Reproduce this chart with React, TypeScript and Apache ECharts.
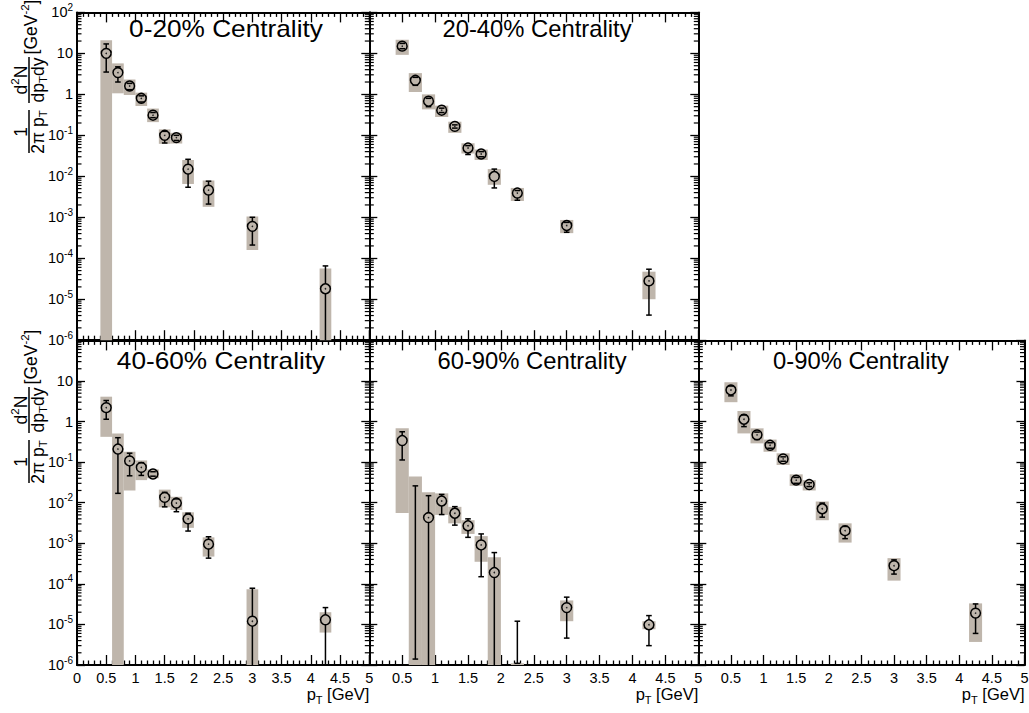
import React, { useEffect, useRef } from 'react';
import * as echarts from 'echarts';

const FF = '"Liberation Sans", Arial, Helvetica, sans-serif';
const font = (px: number) => `normal ${px}px ${FF}`;

// pT bin centres [GeV]
const pT = [0.5, 0.7, 0.9, 1.1, 1.3, 1.5, 1.7, 1.9, 2.25, 3.0, 4.25];

const panelTitles = ['0-20% Centrality', '20-40% Centrality', '40-60% Centrality', '60-90% Centrality', '0-90% Centrality'];

// x tick labels
const xTickStep = 0.5;
// y decades (exponents) shown as labels
const yMinExp = -6;
const yMaxExp = 2;
const minorMultipliers = [2, 3, 4, 5, 6, 7, 8, 9];

// ---- 0-20% ----
const y0_20 = [10, 3.4, 1.6, 0.8, 0.31, 0.1, 0.088, 0.015, 0.0046, 6.0e-4, 1.8e-5];
const statLo0_20 = [3.5, 2.0, 1.3, 0.65, 0.27, 0.065, 0.075, 0.0054, 0.0021, 2.1e-4, 1e-6];
const statHi0_20 = [17, 4.7, 1.85, 0.92, 0.36, 0.125, 0.1, 0.026, 0.0076, 1.0e-3, 6.5e-5];
const sysLo0_20 = [1e-6, 1.06, 0.96, 0.52, 0.21, 0.062, 0.063, 0.0065, 0.0018, 1.6e-4, 1e-6];
const sysHi0_20 = [21, 5.7, 2.3, 1.1, 0.45, 0.14, 0.115, 0.025, 0.0079, 1.05e-3, 5.6e-5];

// ---- 20-40% ----
const y20_40 = [15, 2.2, 0.68, 0.41, 0.165, 0.049, 0.035, 0.0099, 0.0039, 6.3e-4, 2.8e-5];
const statLo20_40 = [13, 1.66, 0.5, 0.36, 0.15, 0.034, 0.03, 0.0052, 0.0026, 4.3e-4, 4.1e-6];
const statHi20_40 = [17.5, 2.6, 0.8, 0.46, 0.18, 0.056, 0.04, 0.015, 0.0045, 7.5e-4, 5.4e-5];
const sysLo20_40 = [9.2, 1.14, 0.43, 0.28, 0.115, 0.036, 0.025, 0.0062, 0.0025, 4.1e-4, 1.0e-5];
const sysHi20_40 = [21.5, 3.3, 1.0, 0.53, 0.215, 0.064, 0.045, 0.015, 0.0052, 8.6e-4, 4.7e-5];

// ---- 40-60% ----
const y40_60 = [2.2, 0.21, 0.107, 0.074, 0.051, 0.0135, 0.0098, 0.004, 9.5e-4, 1.2e-5, 1.3e-5];
const statLo40_60 = [1.14, 0.017, 0.046, 0.047, 0.045, 0.0079, 0.006, 0.002, 4.3e-4, 1e-6, 1e-6];
const statHi40_60 = [3.3, 0.4, 0.166, 0.097, 0.058, 0.018, 0.0124, 0.0055, 1.45e-3, 7.8e-5, 2.6e-5];
const sysLo40_60 = [0.42, 1e-6, 0.02, 0.036, 0.04, 0.0077, 0.0066, 0.0024, 4.7e-4, 1e-6, 6.3e-6];
const sysHi40_60 = [4.1, 0.51, 0.18, 0.11, 0.066, 0.021, 0.014, 0.0058, 1.4e-3, 7.4e-5, 2.0e-5];

// ---- 60-90% ----
const y60_90 = [0.34, null, 0.0043, 0.011, 0.0055, 0.0027, 9.1e-4, 1.9e-4, null, 2.6e-5, 9.8e-6];
const statLo60_90 = [0.113, 1.4e-6, 1e-6, 0.0051, 0.0028, 0.0014, 1.5e-4, 1e-6, 1.1e-6, 4.6e-6, 3.0e-6];
const statHi60_90 = [0.56, 0.026, 0.0149, 0.016, 0.008, 0.004, 0.0017, 5.9e-4, 1.2e-5, 4.7e-5, 1.65e-5];
const sysLo60_90 = [0.0056, 1e-6, 1e-6, 0.005, 0.0031, 0.0017, 3.5e-4, 1e-6, 1e-6, 1.2e-5, 7.6e-6];
const sysHi60_90 = [0.68, 0.044, 0.018, 0.017, 0.0079, 0.0037, 0.0015, 4.5e-4, 1.1e-6, 3.9e-5, 1.2e-5];

// ---- 0-90% ----
const y0_90 = [6.0, 1.14, 0.47, 0.26, 0.12, 0.036, 0.028, 0.0071, 0.00205, 2.8e-4, 1.9e-5];
const statLo0_90 = [4.3, 0.75, 0.36, 0.22, 0.105, 0.03, 0.025, 0.0044, 0.0013, 1.74e-4, 6.0e-6];
const statHi0_90 = [7.5, 1.45, 0.55, 0.3, 0.135, 0.042, 0.031, 0.0098, 0.0026, 3.9e-4, 3.2e-5];
const sysLo0_90 = [3.0, 0.51, 0.29, 0.18, 0.085, 0.026, 0.02, 0.0037, 1.04e-3, 1.2e-4, 3.7e-6];
const sysHi0_90 = [9.3, 1.82, 0.68, 0.36, 0.165, 0.05, 0.036, 0.0107, 3.1e-3, 4.3e-4, 3.3e-5];

const panelData = [
  { y: y0_20, statLo: statLo0_20, statHi: statHi0_20, sysLo: sysLo0_20, sysHi: sysHi0_20 },
  { y: y20_40, statLo: statLo20_40, statHi: statHi20_40, sysLo: sysLo20_40, sysHi: sysHi20_40 },
  { y: y40_60, statLo: statLo40_60, statHi: statHi40_60, sysLo: sysLo40_60, sysHi: sysHi40_60 },
  { y: y60_90, statLo: statLo60_90, statHi: statHi60_90, sysLo: sysLo60_90, sysHi: sysHi60_90 },
  { y: y0_90, statLo: statLo0_90, statHi: statHi0_90, sysLo: sysLo0_90, sysHi: sysHi0_90 },
];

// ---- layout (positions / styles) ----
const GRIDS = [
  { left: 77, top: 12.4, width: 292.3, height: 327.8 },
  { left: 369.3, top: 12.4, width: 329, height: 327.8 },
  { left: 77, top: 340.4, width: 292.3, height: 324.6 },
  { left: 369.3, top: 340.4, width: 329, height: 324.6 },
  { left: 698.3, top: 340.4, width: 326.2, height: 324.6 },
];
const LAYOUT = [
  { xLabels: false, hideZero: false, yLabels: true, hideTop: false, tx: 226, ty: 29.5, sx: 1.14 },
  { xLabels: false, hideZero: true, yLabels: false, hideTop: false, tx: 537, ty: 29.5, sx: 1.035 },
  { xLabels: true, hideZero: false, yLabels: true, hideTop: true, tx: 221, ty: 361.5, sx: 1.14 },
  { xLabels: true, hideZero: true, yLabels: false, hideTop: true, tx: 532, ty: 361, sx: 1.035 },
  { xLabels: true, hideZero: true, yLabels: false, hideTop: true, tx: 861, ty: 361, sx: 1.035 },
];

const BOX_COLOR = '#bfb6ac';
const BOX_HALF = 0.1;
const AXIS_MIN = Math.pow(10, yMinExp);
const AXIS_MAX = Math.pow(10, yMaxExp);
const LINE = '#000';

const yLabelFormatter = (hideTop: boolean) => (v: number) => {
  const e = Math.round(Math.log10(v));
  if (hideTop && e === 2) return '';
  if (e === 0) return '{b|1}';
  if (e === 1) return '{b|10}';
  return '{b|10}{s|' + e + '}';
};

const yRich = {
  b: { fontSize: 14.5, fontFamily: FF, color: '#000', lineHeight: 20 },
  s: { fontSize: 10, fontFamily: FF, color: '#000', verticalAlign: 'top', lineHeight: 8 },
};

// text measuring for composed (sub/superscript) labels
let measureCtx: CanvasRenderingContext2D | null = null;
function textWidth(text: string, px: number) {
  if (!measureCtx) measureCtx = document.createElement('canvas').getContext('2d');
  if (!measureCtx) return text.length * px * 0.55;
  measureCtx.font = font(px);
  return measureCtx.measureText(text).width;
}
type Part = { t: string; px: number; dy: number };
// lay out parts in a row; anchor: 'center' | 'right'
function composeText(parts: Part[], x: number, y: number, anchor: 'center' | 'right') {
  const widths = parts.map((p) => textWidth(p.t, p.px));
  const total = widths.reduce((a, b) => a + b, 0);
  let cur = anchor === 'center' ? x - total / 2 : x - total;
  return parts.map((p, i) => {
    const el = {
      type: 'text', x: cur, y: y + p.dy, silent: true,
      style: { text: p.t, font: font(p.px), fill: '#000', align: 'left', verticalAlign: 'middle' },
    };
    cur += widths[i];
    return el;
  });
}

function buildOption() {
  const grid: any[] = [];
  const xAxis: any[] = [];
  const yAxis: any[] = [];
  const series: any[] = [];
  const graphic: any[] = [];

  const minorVals: number[][] = [];
  for (let e = yMinExp; e < yMaxExp; e++) {
    minorMultipliers.forEach((m) => minorVals.push([0, m * Math.pow(10, e)]));
  }

  GRIDS.forEach((g, gi) => {
    const L = LAYOUT[gi];
    grid.push({ ...g, containLabel: false, outerBoundsMode: 'none' });
    const xCommon = {
      type: 'value', gridIndex: gi, min: 0, max: 5, interval: xTickStep,
      axisLine: { show: true, onZero: false, lineStyle: { color: LINE, width: 2 } },
      axisTick: { show: true, inside: true, length: 10, lineStyle: { color: LINE, width: 1.3 } },
      minorTick: { show: true, splitNumber: 5, length: 4.5, lineStyle: { color: LINE, width: 1.3 } },
      splitLine: { show: false }, minorSplitLine: { show: false },
    };
    xAxis.push({
      ...xCommon, position: 'bottom',
      axisLabel: {
        show: L.xLabels, fontSize: 14.5, fontFamily: FF, color: '#000', margin: 5,
        hideOverlap: false, showMinLabel: true, showMaxLabel: true,
        formatter: (v: number) => (L.hideZero && Math.abs(v) < 1e-9 ? '' : String(+v.toFixed(1))),
      },
    });
    xAxis.push({ ...xCommon, position: 'top', axisLabel: { show: false } });
    const yCommon = {
      type: 'log', logBase: 10, gridIndex: gi, min: AXIS_MIN, max: AXIS_MAX, splitNumber: 8,
      axisLine: { show: true, onZero: false, lineStyle: { color: LINE, width: 2 } },
      axisTick: { show: true, inside: true, length: 8, lineStyle: { color: LINE, width: 1.3 } },
      splitLine: { show: false },
    };
    yAxis.push({
      ...yCommon, position: 'left',
      axisLabel: {
        show: L.yLabels, margin: 4, formatter: yLabelFormatter(L.hideTop), rich: yRich,
        hideOverlap: false, showMinLabel: true, showMaxLabel: true,
      },
    });
    yAxis.push({ ...yCommon, position: 'right', axisLabel: { show: false } });

    const d = panelData[gi];
    // systematic boxes
    series.push({
      type: 'custom', xAxisIndex: 2 * gi, yAxisIndex: 2 * gi, z: 2, silent: true,
      data: pT.map((x, i) => [x, d.sysLo[i], d.sysHi[i]]),
      renderItem: (params: any, api: any) => {
        const x = api.value(0), lo = api.value(1), hi = api.value(2);
        const p1 = api.coord([x - BOX_HALF, hi]);
        const p2 = api.coord([x + BOX_HALF, lo]);
        return {
          type: 'rect',
          shape: { x: p1[0], y: p1[1], width: p2[0] - p1[0], height: p2[1] - p1[1] },
          style: { fill: BOX_COLOR },
        };
      },
    });
    // statistical errors + markers
    series.push({
      type: 'custom', xAxisIndex: 2 * gi, yAxisIndex: 2 * gi, z: 4, silent: true,
      data: pT.map((x, i) => [x, d.statLo[i], d.statHi[i], d.y[i] == null ? NaN : d.y[i]]),
      renderItem: (params: any, api: any) => {
        const x = api.value(0), lo = api.value(1), hi = api.value(2), yv = api.value(3);
        const pHi = api.coord([x, hi]);
        const pLo = api.coord([x, lo]);
        const cx = pHi[0];
        const R = 4.9;
        const CAP = 2.8;
        const ls = { stroke: LINE, lineWidth: 1.5 };
        const ch: any[] = [];
        const hasM = isFinite(yv) && yv > 0;
        if (hasM) {
          const pc = api.coord([x, yv]);
          if (pHi[1] < pc[1] - R) ch.push({ type: 'line', shape: { x1: cx, y1: pHi[1], x2: cx, y2: pc[1] - R }, style: ls });
          if (pLo[1] > pc[1] + R) ch.push({ type: 'line', shape: { x1: cx, y1: pc[1] + R, x2: cx, y2: pLo[1] }, style: ls });
          ch.push({ type: 'circle', shape: { cx: pc[0], cy: pc[1], r: R }, style: { fill: 'none', stroke: LINE, lineWidth: 1.5 } });
          ch.push({ type: 'circle', shape: { cx: pc[0], cy: pc[1], r: 0.8 }, style: { fill: '#222' } });
        } else {
          ch.push({ type: 'line', shape: { x1: cx, y1: pHi[1], x2: cx, y2: pLo[1] }, style: ls });
        }
        ch.push({ type: 'line', shape: { x1: cx - CAP, y1: pHi[1], x2: cx + CAP, y2: pHi[1] }, style: ls });
        if (lo > AXIS_MIN * 1.0001) {
          ch.push({ type: 'line', shape: { x1: cx - CAP, y1: pLo[1], x2: cx + CAP, y2: pLo[1] }, style: ls });
        }
        return { type: 'group', children: ch };
      },
    });
    // log-axis minor ticks (left and right)
    series.push({
      type: 'custom', xAxisIndex: 2 * gi, yAxisIndex: 2 * gi, z: 5, silent: true,
      data: minorVals,
      renderItem: (params: any, api: any) => {
        const v = api.value(1);
        const pL = api.coord([0, v]);
        const pR = api.coord([5, v]);
        const st = { stroke: LINE, lineWidth: 1.2 };
        return {
          type: 'group', children: [
            { type: 'line', shape: { x1: pL[0], y1: pL[1], x2: pL[0] + 4.5, y2: pL[1] }, style: st },
            { type: 'line', shape: { x1: pR[0] - 4.5, y1: pR[1], x2: pR[0], y2: pR[1] }, style: st },
          ],
        };
      },
    });

    // panel title
    graphic.push({
      type: 'text', x: L.tx, y: L.ty, scaleX: L.sx, silent: true,
      style: {
        text: panelTitles[gi], font: font(23), fill: '#000',
        align: 'center', verticalAlign: 'middle',
      },
    });
    // x-axis title
    if (L.xLabels) {
      composeText(
        [{ t: 'p', px: 16.5, dy: 0 }, { t: 'T', px: 11, dy: 5.5 }, { t: ' [GeV]', px: 16.5, dy: 0 }],
        g.left + g.width, 694, 'right',
      ).forEach((el) => graphic.push(el));
    }
  });

  // rotated y-axis titles
  const M = 17.5, S = 11.5;
  const yTitle = (x0: number, y0: number) => ({
    type: 'group', x: x0, y: y0, rotation: Math.PI / 2, silent: true,
    children: [
      ...composeText([{ t: '1', px: M, dy: 0 }], 23, 7, 'center'),
      { type: 'line', shape: { x1: 2, y1: 15, x2: 45, y2: 15 }, style: { stroke: '#000', lineWidth: 1.5 } },
      ...composeText([{ t: '2π p', px: M, dy: 0 }, { t: 'T', px: S, dy: 5 }], 23, 24, 'center'),
      ...composeText([{ t: 'd', px: M, dy: 0 }, { t: '2', px: S, dy: -6 }, { t: 'N', px: M, dy: 0 }], 75, 7, 'center'),
      { type: 'line', shape: { x1: 52, y1: 15, x2: 98, y2: 15 }, style: { stroke: '#000', lineWidth: 1.5 } },
      ...composeText([{ t: 'dp', px: M, dy: 0 }, { t: 'T', px: S, dy: 5 }, { t: 'dy', px: M, dy: 0 }], 75, 24, 'center'),
      ...composeText([{ t: '[GeV', px: M, dy: 0 }, { t: '-2', px: S, dy: -6 }, { t: ']', px: M, dy: 0 }], 128, 17, 'center'),
    ],
  });
  graphic.push(yTitle(14, 155));
  graphic.push(yTitle(14, 485));

  return {
    animation: false,
    backgroundColor: '#fff',
    textStyle: { fontFamily: FF },
    grid, xAxis, yAxis, series, graphic,
  };
}

export default function App() {
  const ref = useRef<HTMLDivElement>(null);
  useEffect(() => {
    if (!ref.current) return;
    const chart = echarts.init(ref.current, null, { renderer: 'svg' });
    chart.setOption(buildOption() as any);
    return () => chart.dispose();
  }, []);
  return (
    <div
      ref={ref}
      style={{ position: 'absolute', left: 0, top: 0, width: 1029, height: 713, background: '#fff' }}
    />
  );
}
